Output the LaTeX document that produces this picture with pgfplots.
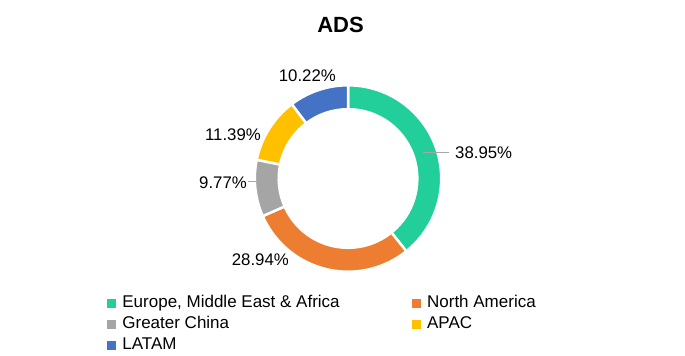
\documentclass[border=0pt]{standalone}
\usepackage{fontspec}
\setmainfont{Liberation Sans}
\usepackage{pgfplots}
\pgfplotsset{compat=1.18}

\definecolor{emea}{HTML}{22CE99}
\definecolor{nam}{HTML}{ED7D31}
\definecolor{gch}{HTML}{A5A5A5}
\definecolor{apac}{HTML}{FFC000}
\definecolor{latam}{HTML}{4472C4}
\definecolor{leader}{HTML}{A6A6A6}

\begin{document}
\begin{tikzpicture}
\begin{axis}[
  scale only axis, width=685bp, height=355bp,
  xmin=0, xmax=685, ymin=0, ymax=355,
  hide axis, clip=false,
  legend columns=2,
  legend cell align=left,
  legend style={at={(axis cs:107,62)}, anchor=north west, draw=none, fill=none,
    inner sep=0pt, outer sep=0pt,
    font=\fontsize{17bp}{20bp}\selectfont,
    nodes={inner xsep=0pt, inner ysep=2.75bp, text height=12bp, text depth=3.5bp},
    /tikz/every odd column/.append style={column sep=7bp},
    /tikz/every even column/.append style={column sep=72bp}},
]
\addlegendimage{legend image code/.code={\fill[emea] (0bp,-4bp) rectangle (8bp,4bp);}}
\addlegendentry{Europe, Middle East \& Africa}
\addlegendimage{legend image code/.code={\fill[nam] (0bp,-4bp) rectangle (8bp,4bp);}}
\addlegendentry{North America}
\addlegendimage{legend image code/.code={\fill[gch] (0bp,-4bp) rectangle (8bp,4bp);}}
\addlegendentry{Greater China}
\addlegendimage{legend image code/.code={\fill[apac] (0bp,-4bp) rectangle (8bp,4bp);}}
\addlegendentry{APAC}
\addlegendimage{legend image code/.code={\fill[latam] (0bp,-4bp) rectangle (8bp,4bp);}}
\addlegendentry{LATAM}

\pgfplotsextra{
  \path (axis cs:0,0) rectangle (axis cs:685,355);
  \coordinate (C) at (axis cs:348,176.5);
  \gdef\cum{0}
  \foreach \v/\c in {38.95/emea,28.94/nam,9.77/gch,11.39/apac,10.22/latam}{
    \pgfmathsetmacro\s{90-\cum/99.27*360}
    \pgfmathsetmacro\e{90-(\cum+\v)/99.27*360}
    \fill[\c, draw=white, line width=2.5bp]
      ([shift={(\s:93.2bp)}]C) arc[start angle=\s, end angle=\e, radius=93.2bp]
      -- ([shift={(\e:69.3bp)}]C) arc[start angle=\e, end angle=\s, radius=69.3bp] -- cycle;
    \pgfmathsetmacro\n{\cum+\v}
    \global\let\cum\n
  }
  \draw[leader, line width=0.8bp] (axis cs:423,203) -- (axis cs:449,203);
  \draw[leader, line width=0.8bp] (axis cs:248,173.3) -- (axis cs:258,173.3);
  \begin{scope}[every node/.style={inner sep=0pt, font=\fontsize{16.8bp}{19bp}\selectfont}]
    \node[anchor=base west] at (axis cs:455,196.7) {38.95\%};
    \node[anchor=base east] at (axis cs:289,89.3) {28.94\%};
    \node[anchor=base east] at (axis cs:247,166.7) {9.77\%};
    \node[anchor=base east] at (axis cs:261,214.3) {11.39\%};
    \node[anchor=base east] at (axis cs:336,273.7) {10.22\%};
  \end{scope}
  \node[anchor=base, inner sep=0pt, font=\bfseries\fontsize{22bp}{25bp}\selectfont] at (axis cs:340.5,322) {ADS};
}
\end{axis}
\end{tikzpicture}
\end{document}
